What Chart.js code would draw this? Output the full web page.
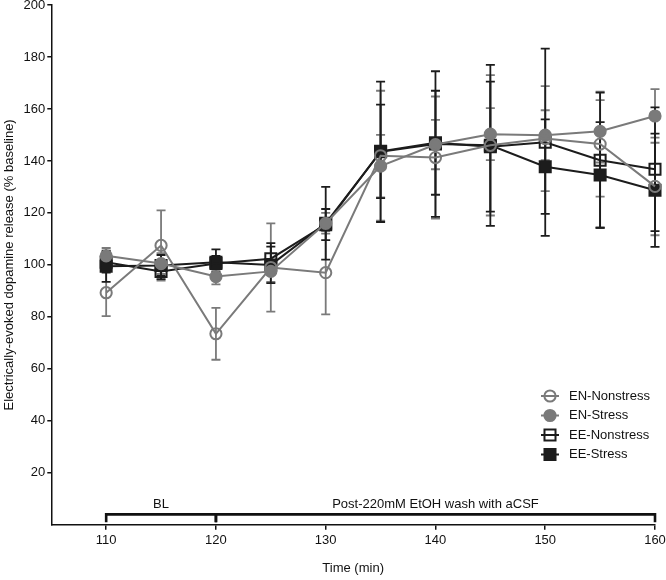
<!DOCTYPE html>
<html>
<head>
<meta charset="utf-8">
<script src="https://cdn.jsdelivr.net/npm/chart.js@4"></script>
<style>
  body { margin: 0; background: #fff; }
  canvas { display: block; }
</style>
</head>
<body>
<canvas id="chart" width="666" height="580"></canvas>
<script>
// time points (min)
const times = [110, 115, 120, 125, 130, 135, 140, 145, 150, 155, 160];

// mean % baseline and error per group
const enNonstress = [89.3, 107.5, 73.5, 99, 97, 142, 141.3, 146, 148.6, 146.5, 130.2];
const enNonstressErr = [9, 13.5, 10, 17, 16, 25, 23.5, 27, 20.2, 20.2, 18.8];
const enStress = [103.5, 100.5, 95.5, 97.5, 116, 138, 146.3, 150.3, 149.9, 151.4, 157.3];
const enStressErr = [3, 4, 3, 4, 4, 12, 9.5, 10, 9.6, 12, 10.3];
const eeNonstress = [101, 97.5, 100.5, 102.4, 115.5, 143.7, 147, 145.5, 147.2, 140.3, 136.8];
const eeNonstressErr = [4, 3, 3, 6, 6, 18, 20, 25, 36, 26, 23.8];
const eeStress = [99.5, 99.8, 101, 100, 116, 143.5, 146.5, 146, 137.8, 134.6, 128.7];
const eeStressErr = [6, 4, 5, 7, 14, 27, 28, 31, 18.2, 20.3, 21.8];

const seriesNames = ['EN-Nonstress', 'EN-Stress', 'EE-Nonstress', 'EE-Stress'];

// phase brackets under the curves
const bracketStarts = [110, 120];
const bracketEnds = [120, 160];
const bracketLabels = ['BL', 'Post-220mM EtOH wash with aCSF'];
const bracketLevel = 4;
const bracketLabelLevel = 8;

const GRAY = '#7a7a7a';
const BLACK = '#1c1c1c';
const FONT = "'Liberation Sans', Arial, sans-serif";

function pts(vals) {
    return vals.map((v, i) => ({ x: times[i], y: v }));
}

function makeSet(label, vals, err, color, style, filled) {
    return {
        label: label,
        data: pts(vals),
        errors: err,
        borderColor: color,
        backgroundColor: filled ? color : 'rgba(0,0,0,0)',
        borderWidth: 2,
        pointStyle: style,
        pointRadius: style === 'rect' ? 7.8 : 5.6,
        pointBorderWidth: 2,
        pointBackgroundColor: filled ? color : 'rgba(0,0,0,0)',
        pointBorderColor: color,
        tension: 0,
        clip: false
    };
}

const datasets = [
    makeSet(seriesNames[0], enNonstress, enNonstressErr, GRAY, 'circle', false),
    makeSet(seriesNames[1], enStress, enStressErr, GRAY, 'circle', true),
    makeSet(seriesNames[2], eeNonstress, eeNonstressErr, BLACK, 'rect', false),
    makeSet(seriesNames[3], eeStress, eeStressErr, BLACK, 'rect', true)
];

const errorBars = {
    id: 'errorBars',
    beforeDatasetsDraw(chart) {
        const ctx = chart.ctx;
        const y = chart.scales.y;
        chart.data.datasets.forEach((ds, di) => {
            const meta = chart.getDatasetMeta(di);
            ctx.save();
            ctx.strokeStyle = ds.borderColor;
            ctx.lineWidth = 1.8;
            meta.data.forEach((pt, i) => {
                const v = ds.data[i].y;
                const e = ds.errors[i];
                const top = y.getPixelForValue(v + e);
                const bot = y.getPixelForValue(v - e);
                ctx.beginPath();
                ctx.moveTo(pt.x, top);
                ctx.lineTo(pt.x, bot);
                ctx.moveTo(pt.x - 4.5, top);
                ctx.lineTo(pt.x + 4.5, top);
                ctx.moveTo(pt.x - 4.5, bot);
                ctx.lineTo(pt.x + 4.5, bot);
                ctx.stroke();
            });
            ctx.restore();
        });
    }
};

function drawMarker(ctx, ds, x, y) {
    ctx.save();
    ctx.lineWidth = 2;
    ctx.strokeStyle = ds.borderColor;
    ctx.fillStyle = ds.pointBackgroundColor;
    ctx.beginPath();
    if (ds.pointStyle === 'rect') {
        const s = ds.pointRadius * Math.SQRT1_2;
        ctx.rect(x - s, y - s, 2 * s, 2 * s);
    } else {
        ctx.arc(x, y, ds.pointRadius, 0, Math.PI * 2);
    }
    ctx.fill();
    ctx.stroke();
    ctx.restore();
}

const extras = {
    id: 'extras',
    afterDraw(chart) {
        const ctx = chart.ctx;
        const xs = chart.scales.x;
        const ys = chart.scales.y;

        // brackets
        ctx.save();
        ctx.strokeStyle = '#111';
        ctx.lineWidth = 2.6;
        const by = ys.getPixelForValue(bracketLevel);
        const tickBottom = ys.getPixelForValue(bracketLevel - 3);
        bracketStarts.forEach((s, i) => {
            const x0 = xs.getPixelForValue(s);
            const x1 = xs.getPixelForValue(bracketEnds[i]);
            ctx.beginPath();
            ctx.moveTo(x0, tickBottom);
            ctx.lineTo(x0, by);
            ctx.lineTo(x1, by);
            ctx.lineTo(x1, tickBottom);
            ctx.stroke();
        });
        ctx.fillStyle = '#111';
        ctx.font = '13px ' + FONT;
        ctx.textAlign = 'center';
        ctx.textBaseline = 'middle';
        const ly = ys.getPixelForValue(bracketLabelLevel);
        bracketLabels.forEach((t, i) => {
            const mid = (bracketStarts[i] + bracketEnds[i]) / 2;
            ctx.fillText(t, xs.getPixelForValue(mid), ly);
        });
        ctx.restore();

        // legend
        ctx.save();
        ctx.font = '13px ' + FONT;
        ctx.textAlign = 'left';
        ctx.textBaseline = 'middle';
        chart.data.datasets.forEach((ds, i) => {
            const y = 396 + i * 19.5;
            ctx.strokeStyle = ds.borderColor;
            ctx.lineWidth = 2;
            ctx.beginPath();
            ctx.moveTo(541, y);
            ctx.lineTo(559, y);
            ctx.stroke();
            drawMarker(ctx, ds, 550, y);
            ctx.fillStyle = '#111';
            ctx.fillText(ds.label, 569, y);
        });
        ctx.restore();
    }
};

new Chart(document.getElementById('chart').getContext('2d'), {
    type: 'line',
    data: { datasets: datasets },
    plugins: [errorBars, extras],
    options: {
        responsive: false,
        animation: false,
        layout: { autoPadding: false, padding: { left: 2, right: 0, top: 0, bottom: 4 } },
        plugins: {
            legend: { display: false },
            tooltip: { enabled: false }
        },
        scales: {
            x: {
                type: 'linear',
                min: 105,
                max: 160,
                afterBuildTicks: axis => {
                    axis.ticks = axis.ticks.filter(t => t.value >= 110 && t.value % 10 === 0);
                },
                afterFit: axis => {
                    axis.paddingRight = 11;
                },
                ticks: { stepSize: 10, color: '#111', font: { family: FONT, size: 13 }, padding: 3, maxRotation: 0 },
                grid: { display: true, drawOnChartArea: false, tickLength: 5, color: '#111', lineWidth: 1.5 },
                border: { display: true, color: '#111', width: 1.5 },
                title: { display: true, text: 'Time (min)', color: '#111', font: { family: FONT, size: 13 }, padding: { top: 9, bottom: 0 } }
            },
            y: {
                min: 0,
                max: 200,
                afterBuildTicks: axis => {
                    axis.ticks = axis.ticks.filter(t => t.value !== 0);
                },
                afterFit: axis => {
                    axis.paddingTop = 5;
                },
                ticks: { stepSize: 20, color: '#111', font: { family: FONT, size: 13 }, padding: 2 },
                grid: { display: true, drawOnChartArea: false, tickLength: 4, color: '#111', lineWidth: 1.5 },
                border: { display: true, color: '#111', width: 1.5 },
                title: { display: true, text: 'Electrically-evoked dopamine release (% baseline)', color: '#111', font: { family: FONT, size: 13 }, padding: { top: 0, bottom: 4 } }
            }
        }
    }
});
</script>
</body>
</html>
